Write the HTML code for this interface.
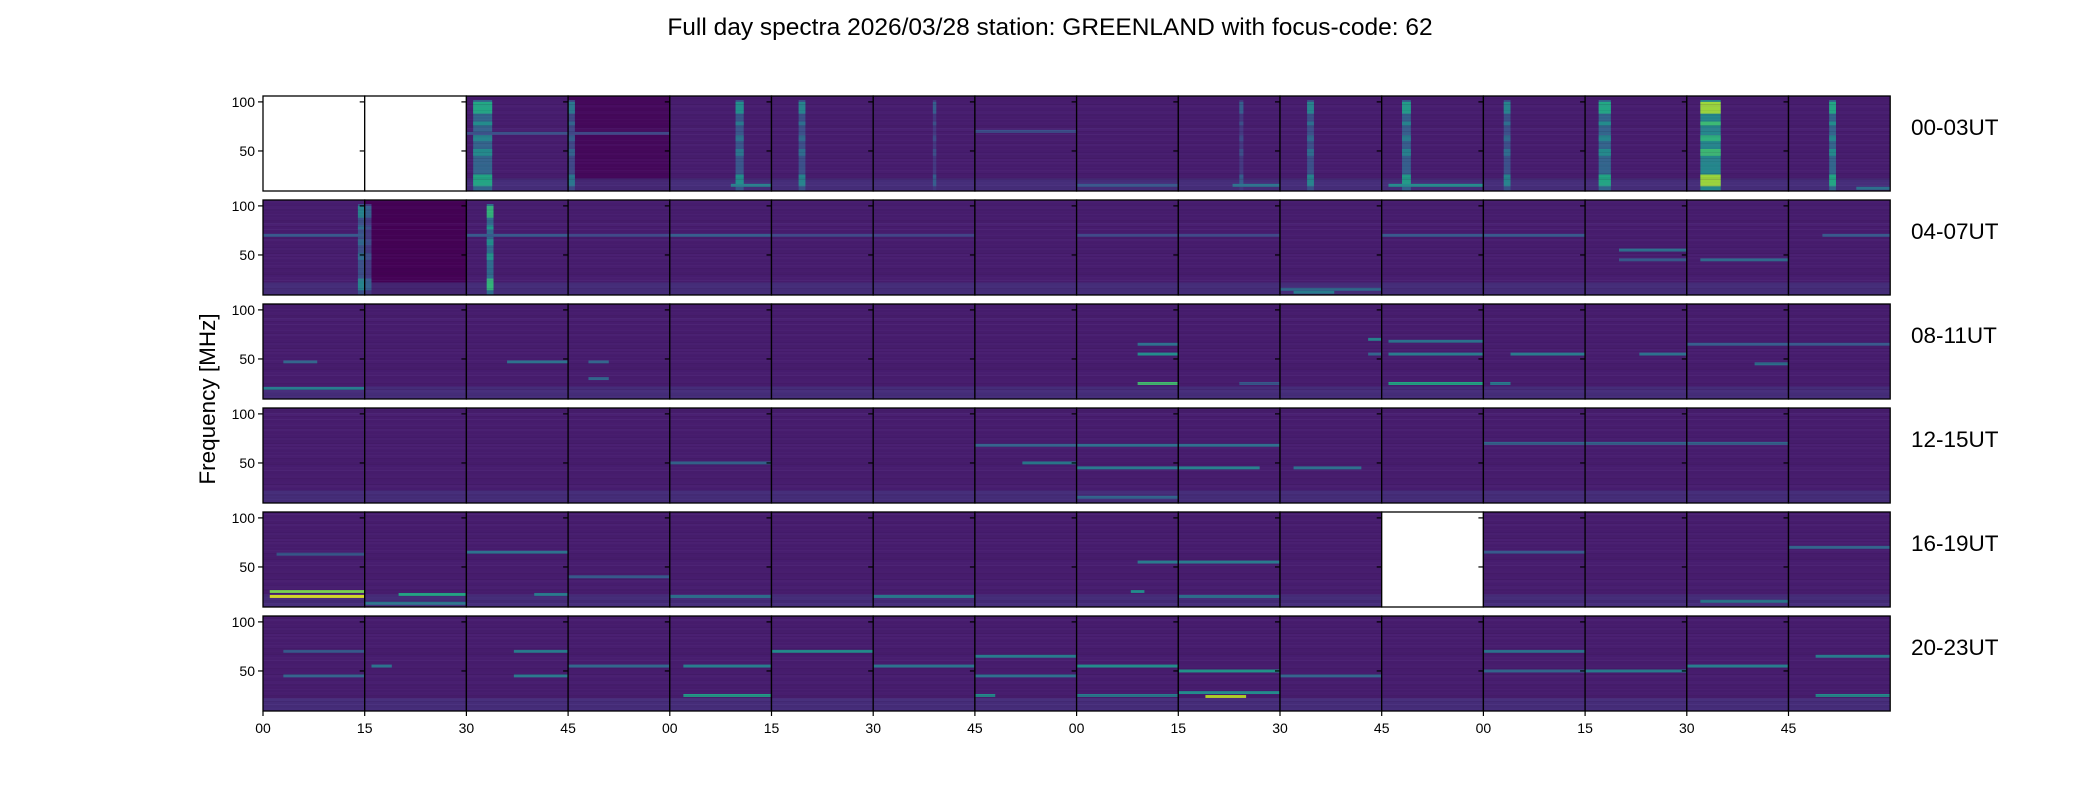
<!DOCTYPE html>
<html><head><meta charset="utf-8"><style>
html,body{margin:0;padding:0;background:#fff;width:2100px;height:800px;overflow:hidden}
svg{display:block;font-family:"Liberation Sans","DejaVu Sans",sans-serif}
</style></head><body>
<svg id="chart" width="2100" height="800">
<defs id="defs"></defs>
<text x="1050" y="35" text-anchor="middle" font-size="24.5">Full day spectra 2026/03/28 station: GREENLAND with focus-code: 62</text>
<text transform="translate(215,399) rotate(-90)" text-anchor="middle" font-size="22.5">Frequency [MHz]</text>
</svg>
<script>
const rowLabels=["00-03UT","04-07UT","08-11UT","12-15UT","16-19UT","20-23UT"];
const xTickLabels=["00","15","30","45","00","15","30","45","00","15","30","45","00","15","30","45"];
const yTicks=[50,100];
const missingPanels=[0,1,75];
const darkPanels=[[3,0.02],[17,0.0]];
// horizontal bands: [panel, freqMHz, intensity, startMin, endMin]
const hBands=[
[2,68,0.25,0,15],[3,68,0.22,0,15],[4,15,0.45,9,15],[7,70,0.25,0,15],[8,15,0.28,0,15],[9,15,0.4,8,15],[11,15,0.5,1,15],[15,12,0.38,10,15],
[16,70,0.28,0,15],[18,70,0.28,0,15],[19,70,0.22,0,15],[20,70,0.3,0,15],[21,70,0.22,0,15],[22,70,0.2,0,15],[24,70,0.22,0,15],[25,70,0.22,0,15],[26,15,0.35,0,15],[27,70,0.28,0,15],[28,70,0.28,0,15],[29,55,0.38,5,15],[29,45,0.28,5,15],[30,45,0.35,2,15],[31,70,0.28,5,15],[26,12,0.42,2,8],
[32,47,0.33,3,8],[32,20,0.42,0,15],[34,47,0.38,6,15],[35,47,0.33,3,6],[35,30,0.33,3,6],[40,55,0.5,9,15],[40,25,0.7,9,15],[40,65,0.38,9,15],[41,25,0.28,9,15],[42,70,0.45,13,15],[42,55,0.33,13,15],[43,55,0.42,1,15],[43,25,0.6,1,15],[43,68,0.38,1,15],[44,55,0.42,4,15],[44,25,0.42,1,4],[45,55,0.38,8,15],[46,45,0.38,10,15],[46,65,0.3,0,15],[47,65,0.28,0,15],
[52,50,0.33,0,15],[55,50,0.42,7,15],[55,68,0.33,0,15],[56,68,0.38,0,15],[56,45,0.42,0,15],[56,15,0.33,0,15],[57,68,0.38,0,15],[57,45,0.45,0,12],[58,45,0.38,2,12],[60,70,0.33,0,15],[61,70,0.33,0,15],[62,70,0.33,0,15],
[64,20,0.95,1,15],[64,25,0.8,1,15],[64,63,0.28,2,15],[65,22,0.6,5,15],[65,13,0.42,0,15],[66,65,0.38,0,15],[66,22,0.42,10,15],[67,40,0.28,0,15],[68,20,0.38,0,15],[70,20,0.42,0,15],[72,55,0.42,9,15],[72,25,0.48,8,10],[73,55,0.42,0,15],[73,20,0.38,0,15],[76,65,0.28,0,15],[78,15,0.42,2,15],[79,70,0.33,0,15],
[80,70,0.28,3,15],[80,45,0.33,3,15],[81,55,0.38,1,4],[82,70,0.42,7,15],[82,45,0.42,7,15],[83,55,0.33,0,15],[84,55,0.42,2,15],[84,25,0.55,2,15],[85,70,0.48,0,15],[86,55,0.38,0,15],[87,65,0.42,0,15],[87,45,0.38,0,15],[87,25,0.48,0,3],[88,55,0.48,0,15],[88,25,0.42,0,15],[89,50,0.52,0,15],[89,28,0.48,0,15],[89,24,0.9,4,10],[90,45,0.33,0,15],[92,70,0.38,0,15],[92,50,0.33,0,15],[93,50,0.42,0,15],[94,55,0.42,0,15],[95,65,0.42,4,15],[95,25,0.48,4,15]
];
// vertical bursts: [panel, startMin, endMin, peakIntensity]
const vBursts=[
[2,1,3.8,0.6],[3,0,1,0.4],[4,9.7,10.9,0.5],[5,4,5,0.45],[6,8.8,9.3,0.3],[9,9,9.6,0.3],[10,4,5,0.45],[11,3,4.3,0.55],[12,3,4,0.45],[13,2,3.8,0.6],[14,2,5,0.85],[15,6,7,0.6],
[16,14,15,0.45],[17,0,1,0.3],[18,3,4,0.65]
];
const burstPeaks=[[88,100,1.0],[76,80,0.8],[60,66,0.75],[45,52,0.8],[14,26,1.0]];
const fMin=9.2,fMax=106;
const X0=263,PW=101.7,Y0=96,PH=95,RP=104;
const vir=["#440154","#482475","#414487","#355f8d","#2a788e","#21918c","#22a884","#44bf70","#7ad151","#bddf26","#fde725"];
function hex(c){return [1,3,5].map(i=>parseInt(c.substr(i,2),16));}
function color(v){v=Math.max(0,Math.min(1,v));const p=v*10,i=Math.min(9,Math.floor(p)),t=p-i;const a=hex(vir[i]),b=hex(vir[i+1]);return "rgb("+a.map((x,k)=>Math.round(x+(b[k]-x)*t)).join(",")+")";}
function px(panel){return X0+(panel%16)*PW;}
function py(panel){return Y0+Math.floor(panel/16)*RP;}
function xScale(panel,m){return px(panel)+m/15*PW;}
function yScale(panel,f){return py(panel)+PH-(f-fMin)/(fMax-fMin)*PH;}
const NS="http://www.w3.org/2000/svg";
const svg=document.getElementById("chart");
function mk(tag,at,parent){const e=document.createElementNS(NS,tag);for(const k in at)e.setAttribute(k,at[k]);(parent||svg).appendChild(e);return e;}
// decorative texture pattern (horizontal stripes)
const pat=mk("pattern",{id:"tex",patternUnits:"userSpaceOnUse",width:101.7,height:95},document.getElementById("defs"));
let s=7;
for(let y=0;y<95;y+=1.5){s=(s*9301+49297)%233280;const r=s/233280;
  mk("rect",{x:0,y:y,width:101.7,height:1,fill:r>0.5?"#6a4c9c":"#2a0a40",opacity:(Math.abs(r-0.5)*0.35).toFixed(3)},pat);}
for(let p=0;p<96;p++){
  const g=mk("g",{});
  
  
  const missing=missingPanels.includes(p);
  const dk=darkPanels.find(d=>d[0]===p);
  const base=mk("rect",{x:px(p),y:py(p),width:PW,height:PH,fill:missing?"#fff":color(dk?dk[1]:0.08)},g);
  
  
  if(!missing){
    const low=mk("rect",{x:px(p),y:yScale(p,22),width:PW,height:yScale(p,fMin)-yScale(p,22),fill:color(0.15),opacity:0.7},g);
    
    
    vBursts.filter(b=>b[0]===p).forEach(b=>{
      const r=mk("rect",{x:xScale(p,b[1]),y:py(p)+4,width:xScale(p,b[2])-xScale(p,b[1]),height:PH-4,fill:color(b[3]*0.55)},g);
      
      
      burstPeaks.forEach(pk=>{
        const q=mk("rect",{x:xScale(p,b[1]),y:yScale(p,pk[1]),width:xScale(p,b[2])-xScale(p,b[1]),height:yScale(p,pk[0])-yScale(p,pk[1]),fill:color(b[3]*pk[2])},g);
        
        
      });
    });
    hBands.filter(b=>b[0]===p).forEach(b=>{
      const r=mk("rect",{x:xScale(p,b[3]),y:yScale(p,b[1]+1.5),width:xScale(p,b[4])-xScale(p,b[3]),height:yScale(p,b[1]-1.5)-yScale(p,b[1]+1.5),fill:color(b[2])},g);
      
      
    });
    const tx=mk("rect",{x:px(p),y:py(p),width:PW,height:PH,fill:"url(#tex)",transform:""},g);
    
    
  }
  const fr=mk("rect",{x:px(p),y:py(p),width:PW,height:PH,fill:"none",stroke:"#000","stroke-width":1.3},g);
  
  
  yTicks.forEach(t=>{
    const y=yScale(p,t);
    const l=mk("line",{x1:px(p)-5,x2:px(p),y1:y,y2:y,stroke:"#000","stroke-width":1.2},g);
    
    
  });
}
for(let r=0;r<6;r++){
  yTicks.forEach(t=>{
    const tx=mk("text",{x:X0-8,y:yScale(r*16,t)+5,"text-anchor":"end","font-size":14});
    tx.textContent=t;
    
    
  });
  const rl=mk("text",{x:1911,y:Y0+r*RP+39,"font-size":22.5});
  rl.textContent=rowLabels[r];
  
  
}
xTickLabels.forEach((lab,i)=>{
  const x=X0+i*PW,yb=Y0+5*RP+PH;
  const l=mk("line",{x1:x,x2:x,y1:yb,y2:yb+5,stroke:"#000","stroke-width":1.2});
  
  
  const t=mk("text",{x:x,y:yb+22,"text-anchor":"middle","font-size":14});
  t.textContent=lab;
  
  
});
</script>
</body></html>
